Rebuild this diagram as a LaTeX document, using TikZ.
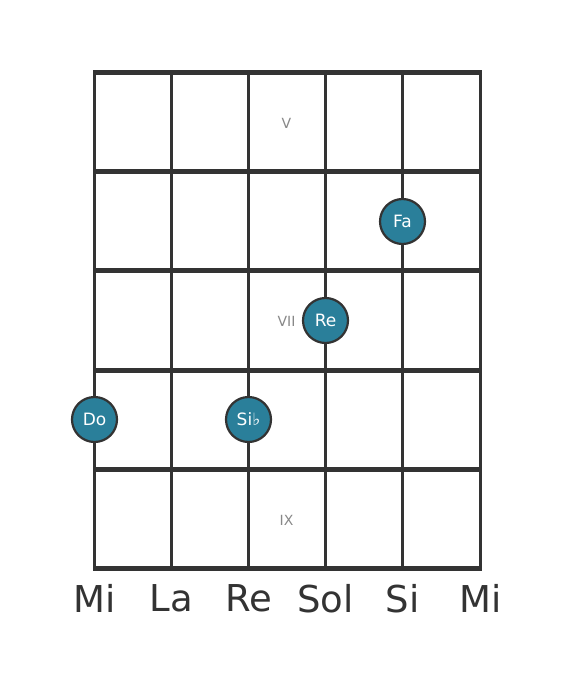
\documentclass[tikz,border=0pt]{standalone}
\usepackage{fontspec}
\setmainfont{DejaVu Sans}
\definecolor{grid}{HTML}{333333}
\definecolor{teal}{HTML}{2A7F9A}
\definecolor{fretlbl}{HTML}{888888}
\begin{document}
\begin{tikzpicture}[x=1pt,y=-1pt,
  fretline/.style={grid,line width=5pt},
  stringline/.style={grid,line width=3pt},
  notedot/.style={circle,fill=teal,draw=grid,line width=2.2pt,minimum size=45pt,inner sep=0pt,text=white,font=\fontsize{17}{17}\selectfont},
  fretno/.style={text=fretlbl,font=\fontsize{14}{14}\selectfont},
  strname/.style={text=grid,font=\fontsize{37}{37}\selectfont}]
\useasboundingbox (0,0) rectangle (568,682);
\foreach \x/\n in {94/s1,171/s2,248/s3,325/s4,402/s5,480/s6}{
  \coordinate (\n t) at (\x+0.5,72.5);
  \coordinate (\n b) at (\x+0.5,568.5);
  \draw[stringline] (\n t) -- (\n b);
}
\foreach \y/\n in {72/f0,171/f1,270/f2,370/f3,469/f4,568/f5}{
  \coordinate (\n l) at (93,\y+0.5);
  \coordinate (\n r) at (482,\y+0.5);
  \draw[fretline] (\n l) -- (\n r);
}
\node[fretno] (lv) at (286.5,123.5) {V};
\node[fretno] (lvii) at (286.5,321.5) {VII};
\node[fretno] (lix) at (286.5,520.5) {IX};
\node[notedot] (fa) at (402.5,221.5) {Fa};
\node[notedot] (re) at (325.5,320.5) {Re};
\node[notedot] (do) at (94.5,419.5) {Do};
\node[notedot] (sib) at (248.5,419.5) {Si♭};
\foreach \x/\t/\n in {94/Mi/n1,171/La/n2,248/Re/n3,325/Sol/n4,402/Si/n5,480/Mi/n6}
  \node[strname] (\n) at (\x+0.5,598.5) {\t};
\end{tikzpicture}
\end{document}
